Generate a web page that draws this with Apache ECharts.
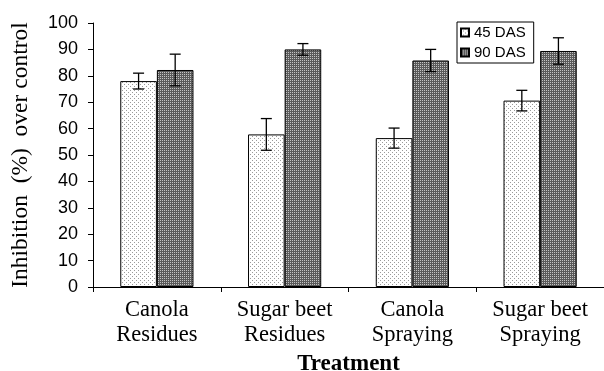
<!DOCTYPE html>
<html><head><meta charset="utf-8">
<script src="https://cdn.jsdelivr.net/npm/echarts@6/dist/echarts.min.js"></script>
<style>html,body{margin:0;padding:0;background:#fff}#c{width:604px;height:371px}</style>
</head><body><div id="c"></div>
<script>
const categories = ['Canola\nResidues', 'Sugar beet\nResidues', 'Canola\nSpraying', 'Sugar beet\nSpraying'];
const seriesNames = ['45 DAS', '90 DAS'];
const das45 = [78, 57.8, 56.4, 70.6];
const das45Err = [3, 6, 3.8, 3.9];
const das90 = [82.2, 90, 85.8, 89.4];
const das90Err = [6, 2.2, 4.2, 5];
const yTicks = [0, 10, 20, 30, 40, 50, 60, 70, 80, 90, 100];

function makePattern(kind) {
  const c = document.createElement('canvas');
  if (kind === 'light') {
    c.width = 4; c.height = 4;
    const g = c.getContext('2d');
    g.fillStyle = '#ffffff'; g.fillRect(0, 0, 4, 4);
    g.fillStyle = '#9a9a9a';
    g.fillRect(0, 0, 1, 1); g.fillRect(2, 2, 1, 1);
  } else {
    c.width = 2; c.height = 2;
    const g = c.getContext('2d');
    g.fillStyle = '#5a5a5a'; g.fillRect(0, 0, 2, 2);
    g.fillStyle = '#c4c4c4';
    g.fillRect(0, 0, 1, 1);
  }
  return { image: c, repeat: 'repeat' };
}
const fills = [makePattern('light'), makePattern('dark')];

const barFrac = (1 - 0.427) / 2;
function errSeries(idx, vals, errs) {
  const data = vals.map((v, i) => [i, v - errs[i], v + errs[i]]);
  return {
    type: 'custom', z: 10, silent: true,
    data: data,
    encode: { x: 0, y: [1, 2] },
    renderItem: function (params, api) {
      const band = api.size([1, 0])[0];
      const off = (idx === 0 ? -1 : 1) * band * barFrac / 2;
      const lo = api.coord([api.value(0), api.value(1)]);
      const hi = api.coord([api.value(0), api.value(2)]);
      const x = lo[0] + off;
      const cap = 5.5;
      const st = { stroke: '#000', lineWidth: 1.3 };
      return {
        type: 'group', children: [
          { type: 'line', shape: { x1: x, y1: lo[1], x2: x, y2: hi[1] }, style: st },
          { type: 'line', shape: { x1: x - cap, y1: lo[1], x2: x + cap, y2: lo[1] }, style: st },
          { type: 'line', shape: { x1: x - cap, y1: hi[1], x2: x + cap, y2: hi[1] }, style: st }
        ]
      };
    }
  };
}

const chart = echarts.init(document.getElementById('c'));
chart.setOption({
  animation: false,
  backgroundColor: '#fff',
  grid: { left: 93, right: 0, top: 23, bottom: 84, containLabel: false, outerBoundsMode: 'none' },
  legend: {
    left: 457, top: 22, orient: 'vertical',
    data: seriesNames,
    itemWidth: 8, itemHeight: 8, itemGap: 5,
    padding: [3, 8, 3, 3],
    borderColor: '#000', borderWidth: 1, borderRadius: 0,
    textStyle: { fontFamily: 'Liberation Sans', fontSize: 15, color: '#000' },
    icon: 'rect'
  },
  xAxis: {
    type: 'category', data: categories,
    name: 'Treatment', nameLocation: 'middle', nameGap: 58,
    nameTextStyle: { fontFamily: 'Liberation Serif', fontSize: 23, fontWeight: 'bold', color: '#000' },
    axisLine: { lineStyle: { color: '#000', width: 1 } },
    axisTick: { show: true, length: 5, lineStyle: { color: '#000' } },
    axisLabel: { interval: 0, margin: 11, fontFamily: 'Liberation Serif', fontSize: 22.5, lineHeight: 25, color: '#000' }
  },
  yAxis: {
    type: 'value', min: yTicks[0], max: yTicks[yTicks.length - 1], interval: 10,
    name: 'Inhibition  (%)  over control', nameLocation: 'middle', nameGap: 60,
    nameTextStyle: { fontFamily: 'Liberation Serif', fontSize: 23.5, color: '#000' },
    splitLine: { show: false },
    axisLine: { show: true, lineStyle: { color: '#000', width: 1 } },
    axisTick: { show: true, length: 5, lineStyle: { color: '#000' } },
    axisLabel: { margin: 15, fontFamily: 'Liberation Sans', fontSize: 18, color: '#000' }
  },
  series: [
    { name: seriesNames[0], type: 'bar', data: das45, barGap: '0%', barCategoryGap: '42.7%',
      itemStyle: { color: fills[0], borderColor: '#000', borderWidth: 1 } },
    { name: seriesNames[1], type: 'bar', data: das90, barGap: '0%', barCategoryGap: '42.7%',
      itemStyle: { color: fills[1], borderColor: '#000', borderWidth: 1 } },
    errSeries(0, das45, das45Err),
    errSeries(1, das90, das90Err)
  ]
});
</script></body></html>
